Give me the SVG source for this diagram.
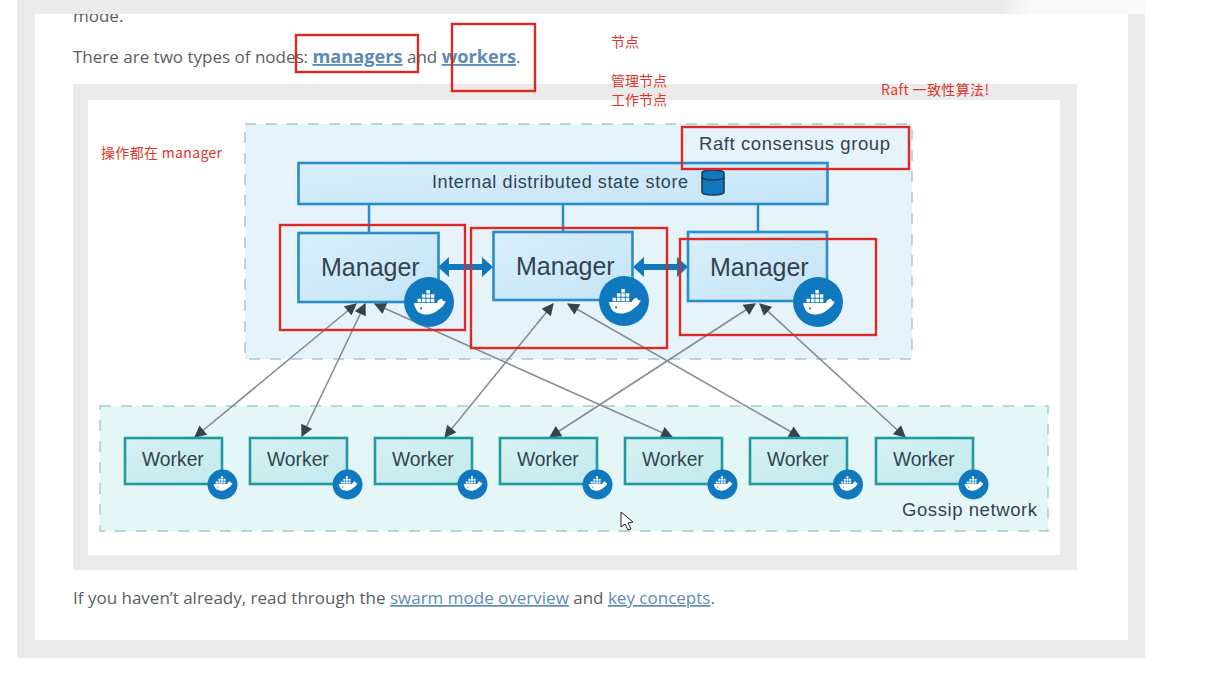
<svg xmlns="http://www.w3.org/2000/svg" width="1205" height="696" viewBox="0 0 1205 696">
<style>
.page{font-family:"Open Sans","Liberation Sans",sans-serif;font-size:17px;fill:#5a5e61}
.link{fill:#5d8ab8;text-decoration:underline}
.bold{font-weight:700;font-size:18.2px}
.note{font-family:"Noto Sans CJK SC","Liberation Sans",sans-serif;font-size:14px;fill:#e2352a}
.lbl{font-family:"Liberation Sans",Arial,sans-serif;fill:#33434f}
.mgr{fill:url(#mg);stroke:#2a8cc8;stroke-width:2.6}
.wkr{fill:url(#wg);stroke:#1f9a9f;stroke-width:2.6}
.red{fill:none;stroke:#dc2a22;stroke-width:2.4}
.arrow{stroke:#868c95;stroke-width:1.6;fill:none;marker-start:url(#ah);marker-end:url(#ah)}
.thick{stroke:#1078bf;stroke-width:6;fill:none}
.tie{stroke:#2a8cc8;stroke-width:2.5;fill:none}
</style>
<defs>
<linearGradient id="mg" x1="0" y1="0" x2="1" y2="1"><stop offset="0" stop-color="#d9effb"/><stop offset="1" stop-color="#c4e4f8"/></linearGradient>
<linearGradient id="wg" x1="0" y1="0" x2="1" y2="1"><stop offset="0" stop-color="#d6f1f3"/><stop offset="1" stop-color="#c3e9ee"/></linearGradient>
<linearGradient id="fade" x1="0" y1="0" x2="1" y2="0"><stop offset="0" stop-color="#fff" stop-opacity="0"/><stop offset=".2" stop-color="#fff" stop-opacity=".7"/><stop offset="1" stop-color="#fff" stop-opacity=".7"/></linearGradient>
<marker id="ah" viewBox="0 0 10 10" refX="9" refY="5" markerWidth="13" markerHeight="12" markerUnits="userSpaceOnUse" orient="auto-start-reverse"><path d="M0 0L10 5L0 10z" fill="#36434e"/></marker>
<g id="whale">
<path d="M-17 -1H9C10-5 13-6 15-6C15-4 16-3 19-3C17 3 13 5 9 8C1 14-12 13-15 5C-16 3-17 1-17-1Z" fill="#fff"/>
<path d="M-13-6h4v4h-4zM-8-6h4v4h-4zM-3-6h4v4h-4zM2-6h4v4h-4zM-8-11h4v4h-4zM-3-11h4v4h-4zM2-11h4v4h-4zM-3-16h4v4h-4z" fill="#fff"/>
<circle cx="-9" cy="5" r="1.2" fill="#1078bf"/>
</g>
<g id="dk"><circle r="25" fill="#1078bf"/><use href="#whale" transform="translate(0 2) scale(.88)"/></g>
<g id="dks"><circle r="15" fill="#1078bf"/><use href="#whale" transform="scale(.52)"/></g>
</defs>
<rect width="1205" height="696" fill="#fff"/>
<g id="page">
<rect x="17" y="0" width="1128" height="658" fill="#ebebeb"/>
<rect x="35" y="14" width="1093" height="626" fill="#fff"/>
<rect x="1000" y="0" width="145" height="14" fill="url(#fade)"/>
<rect x="73" y="84" width="1004" height="486" fill="#ebebeb"/>
<rect x="88" y="100" width="972" height="455" fill="#fff"/>
<clipPath id="cp"><rect x="35" y="14" width="400" height="40"/></clipPath>
<text class="page" x="73" y="22" clip-path="url(#cp)">mode.</text>
<text class="page" x="73" y="63">There are two types of nodes: <tspan class="link bold">managers</tspan> and <tspan class="link bold">workers</tspan>.</text>
<text class="page" x="73" y="604">If you haven’t already, read through the <tspan class="link">swarm mode overview</tspan> and <tspan class="link">key concepts</tspan>.</text>
</g>
<g id="raft-group"><rect x="245" y="124" width="667" height="235" fill="#e6f3fb" stroke="#9ccadb" stroke-width="1.4" stroke-dasharray="11 10"/>
<text class="lbl" x="699" y="150" font-size="18.500" textLength="191">Raft consensus group</text></g>
<g id="gossip-group"><rect x="100" y="406" width="948" height="125" fill="#e5f6f7" stroke="#9ad0cd" stroke-width="1.4" stroke-dasharray="11 10"/>
<text class="lbl" x="902" y="516" font-size="18.500" textLength="135">Gossip network</text></g>
<g id="connectors">
<path class="tie" d="M369 205V233M563 205V232M758 205V232"/>
<path class="thick" d="M446 267H485M641 267H680"/>
<path d="M438 267L449 257V277ZM493 267L482 257V277ZM633 267L644 257V277ZM688 267L677 257V277Z" fill="#1078bf"/>
<path class="arrow" d="M195 437L356 304"/>
<path class="arrow" d="M302 436L365 304"/>
<path class="arrow" d="M445 437L553 304"/>
<path class="arrow" d="M550 437L755 304"/>
<path class="arrow" d="M672 437L375 304"/>
<path class="arrow" d="M800 437L568 304"/>
<path class="arrow" d="M905 437L760 304"/>
</g>
<g id="store"><rect x="298.500" y="163" width="529" height="41" class="mgr"/>
<text class="lbl" x="432" y="188" font-size="18" textLength="256">Internal distributed state store</text>
<path d="M702 173a11 3 0 0 1 22 0v19a11 3 0 0 1-22 0z" fill="#1078bf" stroke="#14364f" stroke-width="1.500"/><path d="M702 177a11 3 0 0 0 22 0" fill="none" stroke="#14364f" stroke-width="1.500"/></g>
<g id="manager-1"><rect class="mgr" x="298.500" y="233" width="140" height="69"/><text class="lbl" x="321" y="276" font-size="25">Manager</text><use href="#dk" x="429" y="302"/></g>
<g id="manager-2"><rect class="mgr" x="493.500" y="232" width="139" height="68"/><text class="lbl" x="516" y="275" font-size="25">Manager</text><use href="#dk" x="624" y="301"/></g>
<g id="manager-3"><rect class="mgr" x="688" y="232" width="139" height="69"/><text class="lbl" x="710" y="276" font-size="25">Manager</text><use href="#dk" x="818" y="302"/></g>
<g id="worker-1"><rect class="wkr" x="125" y="438" width="97" height="46"/><text class="lbl" x="142" y="466" font-size="19.300">Worker</text><use href="#dks" x="222.500" y="484.500"/></g>
<g id="worker-2"><rect class="wkr" x="250" y="438" width="97" height="46"/><text class="lbl" x="267" y="466" font-size="19.300">Worker</text><use href="#dks" x="347.500" y="484.500"/></g>
<g id="worker-3"><rect class="wkr" x="375" y="438" width="97" height="46"/><text class="lbl" x="392" y="466" font-size="19.300">Worker</text><use href="#dks" x="472.500" y="484.500"/></g>
<g id="worker-4"><rect class="wkr" x="500" y="438" width="97" height="46"/><text class="lbl" x="517" y="466" font-size="19.300">Worker</text><use href="#dks" x="597.500" y="484.500"/></g>
<g id="worker-5"><rect class="wkr" x="625" y="438" width="97" height="46"/><text class="lbl" x="642" y="466" font-size="19.300">Worker</text><use href="#dks" x="722.500" y="484.500"/></g>
<g id="worker-6"><rect class="wkr" x="750" y="438" width="97" height="46"/><text class="lbl" x="767" y="466" font-size="19.300">Worker</text><use href="#dks" x="848" y="484.500"/></g>
<g id="worker-7"><rect class="wkr" x="876" y="438" width="97" height="46"/><text class="lbl" x="893" y="466" font-size="19.300">Worker</text><use href="#dks" x="973.500" y="484.500"/></g>
<g id="annotations">
<rect class="red" x="296" y="35" width="122" height="37"/>
<rect class="red" x="452" y="24" width="83" height="67"/>
<rect class="red" x="682" y="127" width="227" height="42"/>
<rect class="red" x="280" y="225" width="185" height="105"/>
<rect class="red" x="471" y="228" width="196" height="120"/>
<rect class="red" x="680" y="239" width="196" height="96"/>
<text class="note" x="611" y="47">节点</text>
<text class="note" x="611" y="86">管理节点</text>
<text class="note" x="611" y="105">工作节点</text>
<text class="note" x="881" y="95" textLength="108">Raft 一致性算法!</text>
<text class="note" x="101" y="158" textLength="121">操作都在 manager</text>
</g>
<path id="cursor" d="M621 512V527L625 524L628 530L631 529L628 523L633 522Z" fill="#fff" stroke="#222" stroke-width="1"/>
</svg>
